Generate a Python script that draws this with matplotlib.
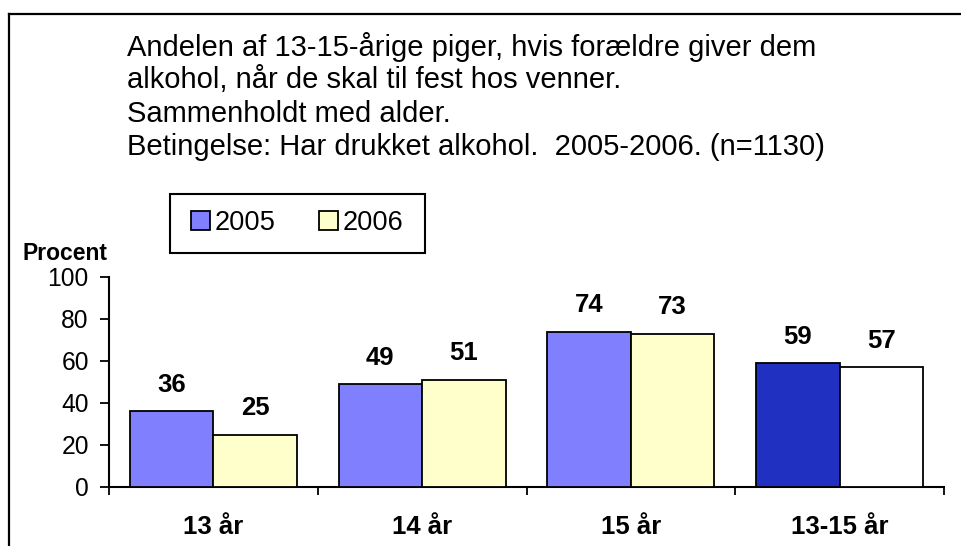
import matplotlib
matplotlib.use("Agg")
import matplotlib.pyplot as plt
from matplotlib.patches import Patch, Rectangle
from matplotlib.lines import Line2D

plt.rcParams['font.family'] = ['Liberation Sans', 'DejaVu Sans']

categories = ["13 år", "14 år", "15 år", "13-15 år"]
series_names = ["2005", "2006"]
values_2005 = [36, 49, 74, 59]
values_2006 = [25, 51, 73, 57]
colors_2005 = ["#8080FF", "#8080FF", "#8080FF", "#2030C0"]
colors_2006 = ["#FFFFCC", "#FFFFCC", "#FFFFCC", "#FFFFFF"]
yticks = [0, 20, 40, 60, 80, 100]
title_lines = [
    "Andelen af 13-15-årige piger, hvis forældre giver dem",
    "alkohol, når de skal til fest hos venner.",
    "Sammenholdt med alder.",
    "Betingelse: Har drukket alkohol.  2005-2006. (n=1130)",
]
ylabel = "Procent"

W, H = 962, 546
fig = plt.figure(figsize=(W / 100, H / 100), dpi=100)
fig.patch.set_facecolor("white")

def fx(px):
    return px / W

def fy(py):
    return 1 - py / H

# outer frame (top and left edges visible)
fig.add_artist(Line2D([fx(9), fx(W + 5)], [fy(14), fy(14)], color="black", lw=1.6, transform=fig.transFigure))
fig.add_artist(Line2D([fx(9), fx(9)], [fy(14), fy(H + 5)], color="black", lw=1.6, transform=fig.transFigure))

ax = fig.add_axes([fx(109), fy(487), fx(944) - fx(109), fy(277) - fy(487)])
x = list(range(len(categories)))
bw = 0.4
b1 = ax.bar([i - bw / 2 for i in x], values_2005, width=bw, color=colors_2005,
            edgecolor="black", linewidth=1.3, zorder=3)
b2 = ax.bar([i + bw / 2 for i in x], values_2006, width=bw, color=colors_2006,
            edgecolor="black", linewidth=1.3, zorder=3)

for bars, vals in ((b1, values_2005), (b2, values_2006)):
    for rect, v in zip(bars, vals):
        ax.annotate(f"{v}", (rect.get_x() + rect.get_width() / 2, v),
                    xytext=(0, 14), textcoords="offset points",
                    ha="center", va="baseline", fontsize=18.5, fontweight="bold")

ax.set_xlim(-0.5, len(categories) - 0.5)
ax.set_ylim(0, 100)
ax.set_yticks(yticks)
ax.set_yticklabels([str(t) for t in yticks], fontsize=17.7)
ax.tick_params(axis="y", length=6.5, width=1.3, pad=8, direction="out")

ax.set_xticks([i - 0.5 for i in range(len(categories) + 1)])
ax.set_xticklabels([])
ax.tick_params(axis="x", which="major", length=5.8, width=1.3, direction="out")
ax.set_xticks(x, minor=True)
ax.set_xticklabels(categories, minor=True, fontsize=18.5, fontweight="bold")
ax.tick_params(axis="x", which="minor", length=0, pad=20)

for s in ("top", "right"):
    ax.spines[s].set_visible(False)
for s in ("left", "bottom"):
    ax.spines[s].set_linewidth(1.5)
ax.set_facecolor("none")

# title
for k, line in enumerate(title_lines):
    fig.text(fx(127), fy(47 + 33.3 * k), line, fontsize=21, ha="left", va="center")

fig.text(fx(23), fy(253), ylabel, fontsize=16.5, fontweight="bold", ha="left", va="center")

# legend box
fig.add_artist(Rectangle((fx(170), fy(253)), fx(425) - fx(170), fy(194) - fy(253),
                         transform=fig.transFigure, facecolor="white",
                         edgecolor="black", linewidth=1.5))
handles = [Patch(facecolor=colors_2005[0], edgecolor="black", linewidth=1.3),
           Patch(facecolor=colors_2006[0], edgecolor="black", linewidth=1.3)]
leg = fig.legend(handles, series_names, loc="center",
                 bbox_to_anchor=(fx(297.5), fy(223)), ncol=2, fontsize=19.6,
                 frameon=False,
                 handlelength=0.67, handleheight=0.67, handletextpad=0.19,
                 columnspacing=1.6, borderpad=0, borderaxespad=0)
leg.set_zorder(5)

fig.savefig("out.png", dpi=100)
